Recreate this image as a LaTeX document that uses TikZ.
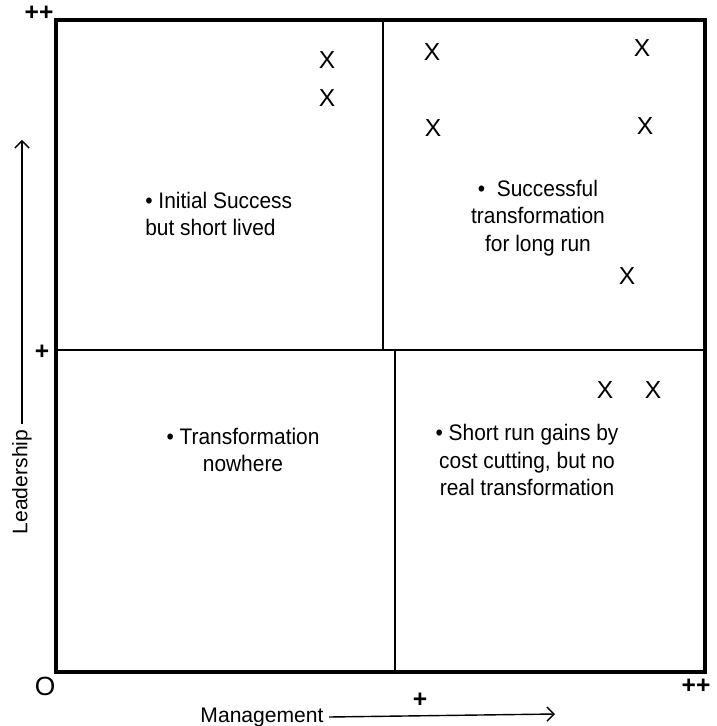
\documentclass[tikz,border=0pt]{standalone}
\usepackage{fontspec}
\setmainfont{Liberation Sans}
\newfontfamily\quadfont[FakeStretch=0.93]{Liberation Sans}
\usepackage{tikz}
\usetikzlibrary{positioning, arrows.meta}
\tikzstyle{quadtext} = [font=\quadfont\fontsize{12.8}{15.5}\selectfont, inner sep=0pt]
\tikzstyle{cross} = [font=\fontsize{14}{16}\selectfont, inner sep=0pt]
\tikzstyle{tick} = [font=\bfseries\fontsize{14}{16}\selectfont, inner sep=0pt]
\tikzstyle{axislabel} = [font=\fontsize{12}{14}\selectfont, inner sep=3pt]
\tikzstyle{axisarrow} = [line width=0.8pt, -{Straight Barb[length=4pt, width=8pt, line width=0.8pt]}]
\tikzstyle{frame} = [line width=2pt]
\tikzstyle{divider} = [line width=1.6pt]

\begin{document}
\begin{tikzpicture}[x=0.02cm, y=-0.02cm]

    \useasboundingbox (0,0) rectangle (716,726);

    % frame and quadrants
    \coordinate (topLeft) at (56,20);
    \coordinate (bottomRight) at (705,672);
    \coordinate (topMid) at (383,20);
    \coordinate (centerUp) at (383,350);
    \coordinate (centerDown) at (395,350);
    \coordinate (bottomMid) at (395,672);
    \coordinate (midLeft) at (56,350);
    \coordinate (midRight) at (705,350);

    \draw[frame] (topLeft) rectangle (bottomRight);
    \draw[divider] (topMid) -- (centerUp);
    \draw[divider] (centerDown) -- (bottomMid);
    \draw[divider] (midLeft) -- (midRight);

    % scale marks
    \node (leadTop) [tick] at (39,13) {++};
    \node (leadMid) [tick] at (42,352) {+};
    \node (origin) [inner sep=0pt, font=\fontsize{15}{16}\selectfont] at (45,686) {O};
    \node (mgmtMid) [tick] at (420,700) {+};
    \node (mgmtTop) [tick] at (696,686) {++};

    % axes
    \node (leadership) [axislabel, rotate=90] at (22,482) {Leadership};
    \coordinate (leadTip) at (22,140);
    \draw[axisarrow] (leadership.east) -- (leadTip);

    \node (management) [axislabel] at (262,717) {Management};
    \coordinate (mgmtTip) at (555,714);
    \draw[axisarrow] (management.east) -- (mgmtTip);

    % quadrant texts
    \node (initial) [quadtext, align=left, anchor=west] at (145,214) {\textbullet\ Initial Success\\but short lived};
    \node (successful) [quadtext, align=center] at (538,218) {\textbullet\ \ Successful\\transformation\\for long run};
    \node (nowhere) [quadtext, align=center] at (243,450) {\textbullet\ Transformation\\nowhere};
    \node (shortrun) [quadtext, align=center] at (527,460) {\textbullet\ Short run gains by\\cost cutting, but no\\real transformation};

    % observations
    \foreach \px/\py in {327/60, 327/98, 432/52, 642/48, 433/128, 645/126, 627/276, 605/390, 653/390}
        \node [cross] at (\px,\py) {X};

\end{tikzpicture}
\end{document}
